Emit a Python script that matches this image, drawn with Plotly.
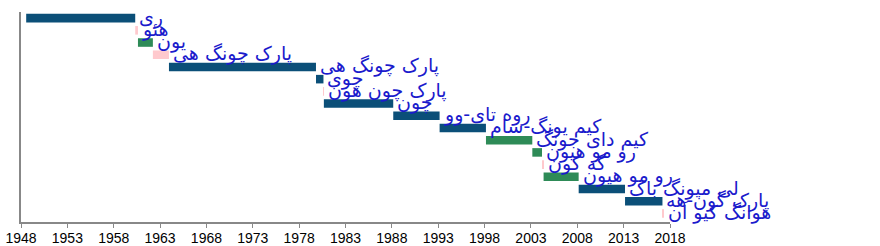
import plotly.graph_objects as go
from datetime import date

names = ["ری", "هئو", "یون", "پارک چونگ هی", "پارک چونگ هی", "چوی", "پارک چون هون",
         "چون", "روه تای-وو", "کیم یونگ-سام", "کیم دای جونگ", "رو مو هیون", "گه کون",
         "رو مو هیون", "لی میونگ باک", "پارک گون-هه", "هوانگ کیو آن"]
starts = ["1948-07-24", "1960-04-27", "1960-08-13", "1962-03-24", "1963-12-17", "1979-10-26",
          "1980-08-16", "1980-09-01", "1988-02-25", "1993-02-25", "1998-02-25", "2003-02-25",
          "2004-03-12", "2004-05-14", "2008-02-25", "2013-02-25", "2017-03-10"]
ends = ["1960-04-27", "1960-08-13", "1962-03-24", "1963-12-17", "1979-10-26", "1980-08-16",
        "1980-09-01", "1988-02-24", "1993-02-24", "1998-02-24", "2003-02-24", "2004-03-12",
        "2004-05-14", "2008-02-24", "2013-02-24", "2017-03-10", "2017-05-10"]
groups = ["cons", "acting", "lib", "acting", "cons", "cons", "acting", "cons", "cons", "cons",
          "lib", "lib", "acting", "lib", "cons", "cons", "acting"]
tick_years = list(range(1948, 2019, 5))

colors = {"cons": "#0b4f78", "lib": "#2e8b57", "acting": "#ffc9cd"}


def frac_year(s):
    d = date.fromisoformat(s)
    y0 = date(d.year, 1, 1)
    y1 = date(d.year + 1, 1, 1)
    return d.year + (d - y0).days / (y1 - y0).days


x0 = [frac_year(s) for s in starts]
x1 = [frac_year(e) for e in ends]
rows = list(range(len(names)))

fig = go.Figure()
fig.add_trace(go.Bar(
    orientation="h",
    y=rows,
    base=x0,
    x=[b - a for a, b in zip(x0, x1)],
    marker=dict(color=[colors[g] for g in groups], line=dict(width=0)),
    width=0.7,
    hoverinfo="skip",
    showlegend=False,
))

for r, (n, e) in enumerate(zip(names, x1)):
    fig.add_annotation(x=e, y=r, text=n, showarrow=False, xanchor="left", yanchor="middle",
                       xshift=2, yshift=1,
                       font=dict(family="DejaVu Sans", size=19, color="#1a1acc"))

fig.update_layout(
    width=880, height=246,
    margin=dict(l=21, r=210, t=12, b=24),
    plot_bgcolor="white", paper_bgcolor="white",
    bargap=0.3,
)
fig.update_xaxes(
    range=[1948, 2018], tickvals=tick_years, ticktext=[str(t) for t in tick_years],
    showgrid=False, zeroline=False, showline=True, linecolor="#888888", linewidth=1.5,
    ticks="outside", ticklen=4, tickcolor="#888888", tickwidth=1,
    ticklabelstandoff=-2,
    tickfont=dict(family="Liberation Sans", size=14, color="black"),
    automargin=False,
)
fig.update_yaxes(
    range=[16.7, -0.5], showgrid=False, zeroline=False, showline=True,
    linecolor="#888888", linewidth=1.5, showticklabels=False, ticks="",
    automargin=False,
)

fig.write_html("out.html")
